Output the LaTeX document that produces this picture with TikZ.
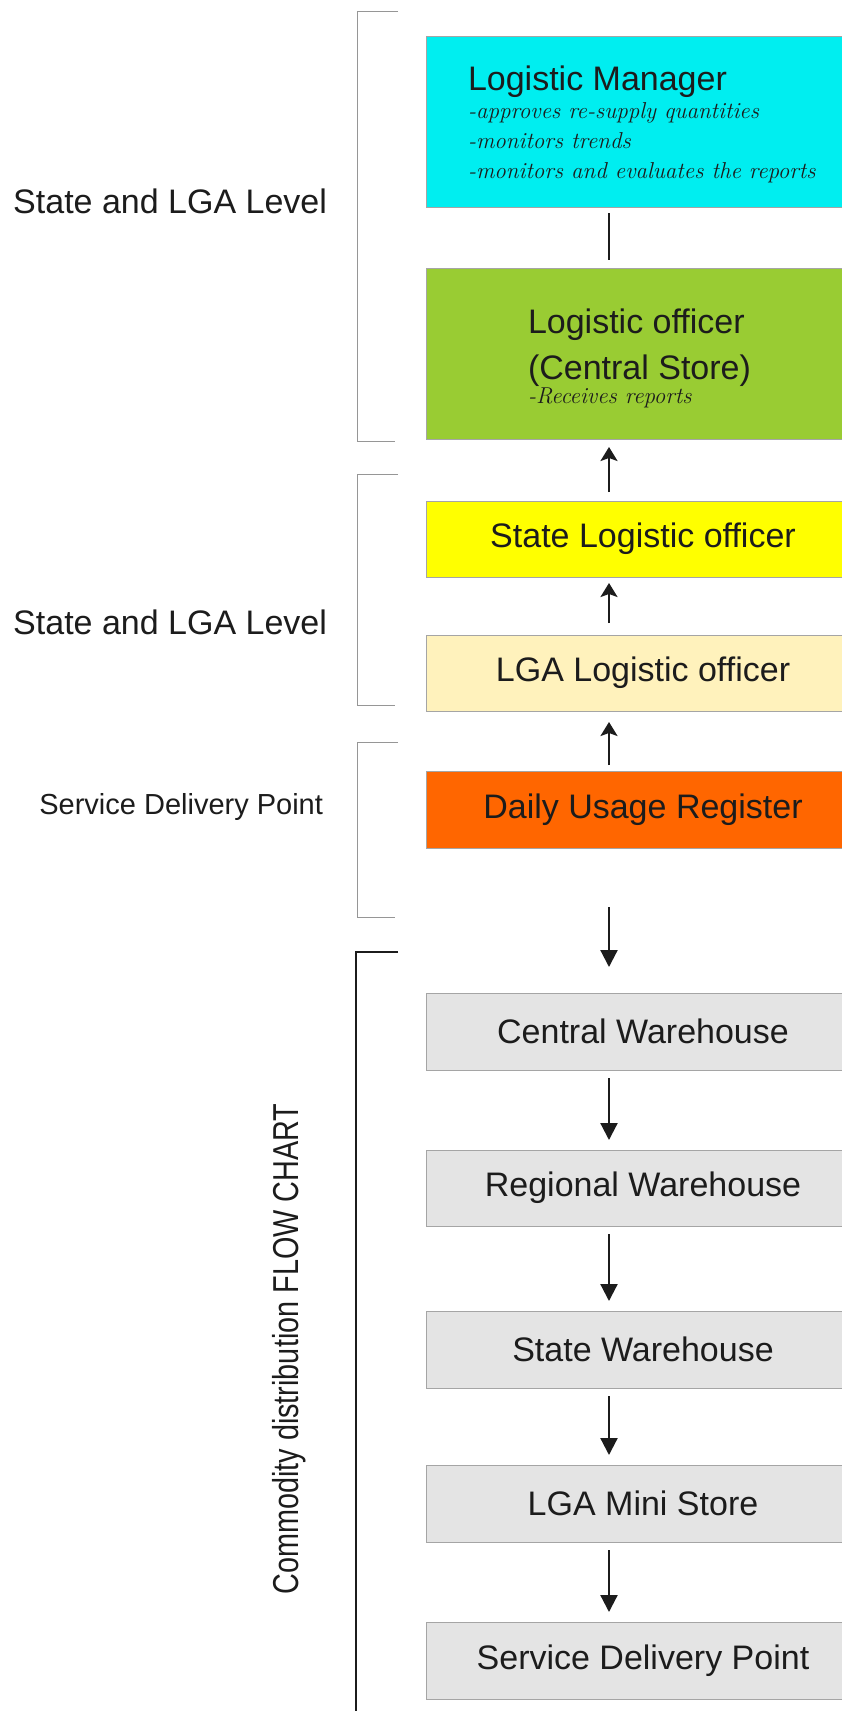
\documentclass[tikz,border=0pt]{standalone}
\usepackage{fontspec}
\newfontfamily\arial{Liberation Sans}
\usetikzlibrary{arrows.meta}

\definecolor{ink}{RGB}{28,28,28}
\definecolor{cyanbox}{RGB}{0,238,240}
\definecolor{greenbox}{RGB}{153,204,51}
\definecolor{yellowbox}{RGB}{255,255,0}
\definecolor{creambox}{RGB}{255,242,188}
\definecolor{orangebox}{RGB}{255,102,0}
\definecolor{greybox}{RGB}{228,228,228}
\definecolor{edge}{RGB}{165,165,165}
\definecolor{brace}{RGB}{150,150,150}

\begin{document}
\begin{tikzpicture}[x=1pt,y=-1pt,
  every node/.style={inner sep=0pt, outer sep=0pt, text=ink},
  stepbox/.style={draw=edge, line width=0.8pt, anchor=north west,
    minimum width=434pt, font=\arial\fontsize{34}{40}\selectfont},
  title/.style={anchor=base west, font=\arial\fontsize{34}{40}\selectfont},
  note/.style={anchor=base west, font=\fontsize{23}{28}\selectfont\itshape},
  side/.style={anchor=base east, font=\arial\fontsize{34}{40}\selectfont},
  link/.style={line width=2.2pt, draw=ink},
  uparrow/.style={link, -{Stealth[length=14pt,width=17pt,inset=3pt]}},
  downarrow/.style={link, -{Triangle[length=17pt,width=17pt]}},
  bracket/.style={draw=brace, line width=1pt},
]
\useasboundingbox (0,0) rectangle (842,1711);
\fill[white] (0,0) rectangle (842,1711);
\clip (0,0) rectangle (842,1711);

% ---- reporting chain ----
\node[stepbox, fill=cyanbox, minimum height=171pt] (lm) at (426,36) {};
\node[title] (lmtitle) at (468,90) {Logistic Manager};
\node[note] (lmn1) at (468,118) {-approves re-supply quantities};
\node[note] (lmn2) at (468,148) {-monitors trends};
\node[note] (lmn3) at (468,178) {-monitors and evaluates the reports};

\node[stepbox, fill=greenbox, minimum height=171pt] (lo) at (426,268) {};
\node[title] (lotitle1) at (528,333) {Logistic officer};
\node[title] (lotitle2) at (528,379) {(Central Store)};
\node[note] (lon1) at (528,403) {-Receives reports};

\node[stepbox, fill=yellowbox, minimum height=76pt] (slo) at (426,501) {State Logistic officer};
\node[stepbox, fill=creambox, minimum height=76pt] (lga) at (426,635) {LGA Logistic officer};
\node[stepbox, fill=orangebox, minimum height=77pt] (dur) at (426,771) {Daily Usage Register};

% ---- commodity flow ----
\node[stepbox, fill=greybox, minimum height=77pt] (cw) at (426,993) {Central Warehouse};
\node[stepbox, fill=greybox, minimum height=76pt] (rw) at (426,1150) {Regional Warehouse};
\node[stepbox, fill=greybox, minimum height=77pt] (sw) at (426,1311) {State Warehouse};
\node[stepbox, fill=greybox, minimum height=77pt] (lms) at (426,1465) {LGA Mini Store};
\node[stepbox, fill=greybox, minimum height=77pt] (sdpbox) at (426,1622) {Service Delivery Point};

% ---- connectors ----
\coordinate (ax) at (609,0);
\draw[link, shorten <=6pt, shorten >=8pt] (lm.south -| ax) -- (lo.north -| ax);
\draw[uparrow, shorten <=9pt, shorten >=8pt] (slo.north -| ax) -- (lo.south -| ax);
\draw[uparrow, shorten <=12pt, shorten >=6pt] (lga.north -| ax) -- (slo.south -| ax);
\draw[uparrow, shorten <=6pt, shorten >=11pt] (dur.north -| ax) -- (lga.south -| ax);
\coordinate (inflow) at (609,907);
\draw[downarrow, shorten >=26pt] (inflow) -- (inflow |- cw.north);
\foreach \a/\b in {cw/rw, rw/sw, sw/lms, lms/sdpbox}
  \draw[downarrow, shorten <=8pt, shorten >=10pt] (\a.south -| ax) -- (\b.north -| ax);

% ---- level brackets ----
\draw[bracket] (398,11) -- (357,11) -- (357,441) -- (395,441);
\draw[bracket] (398,474) -- (357,474) -- (357,705) -- (395,705);
\draw[bracket] (398,742) -- (357,742) -- (357,917) -- (395,917);
\draw[draw=ink, line width=2.5pt] (398,952) -- (356,952) -- (356,1720);

% ---- level labels ----
\node[side] (lvl1) at (327,213) {State and LGA Level};
\node[side] (lvl2) at (327,634) {State and LGA Level};
\node[side, font=\arial\fontsize{29}{34}\selectfont] (lvl3) at (323,814) {Service Delivery Point};
\node[rotate=90, anchor=base, font=\arial\fontsize{36}{40}\selectfont] (flow) at (298,1349)
  {\scalebox{0.8}[1]{Commodity distribution FLOW CHART}};
\end{tikzpicture}
\end{document}
